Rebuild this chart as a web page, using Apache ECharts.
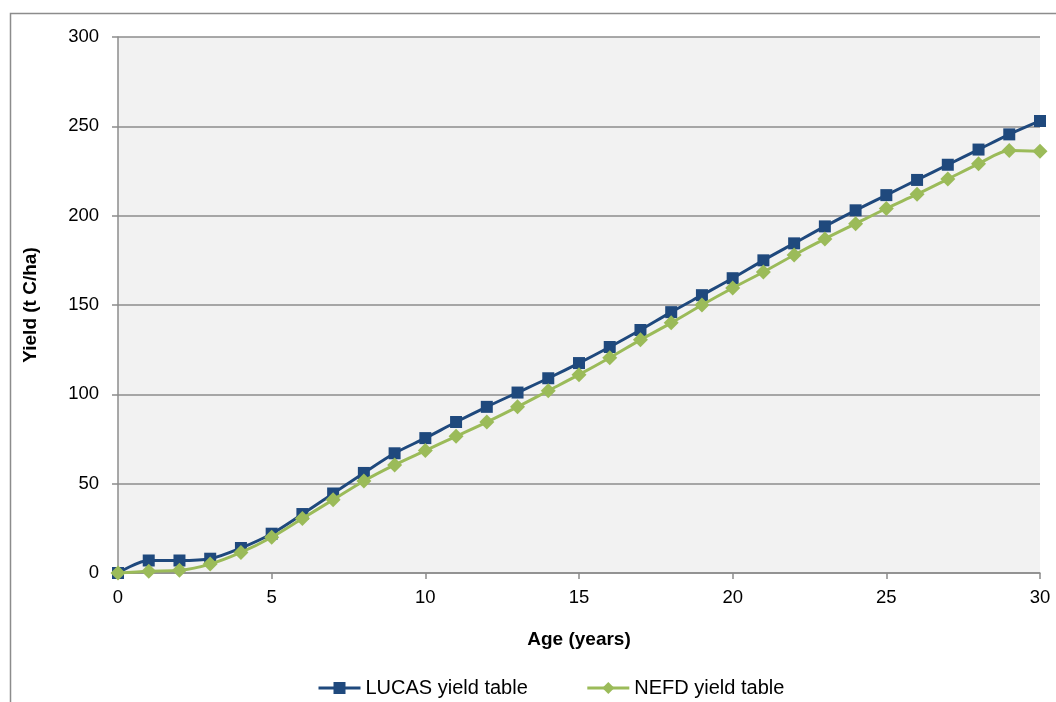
<!DOCTYPE html>
<html>
<head>
<meta charset="utf-8">
<script src="https://cdn.jsdelivr.net/npm/echarts@6/dist/echarts.min.js"></script>
<style>
  html, body { margin: 0; padding: 0; background: #fff; }
  #chart { width: 1056px; height: 702px; }
</style>
</head>
<body>
<div id="chart"></div>
<script>
// ages in years
const ages = [0, 1, 2, 3, 4, 5, 6, 7, 8, 9, 10, 11, 12, 13, 14, 15, 16, 17, 18, 19, 20, 21, 22, 23, 24, 25, 26, 27, 28, 29, 30]
// yield t C/ha
const lucas = [0, 7, 7, 8, 14, 22, 33, 44.5, 56, 67, 75.5, 84.5, 93, 101, 109, 117.5, 126.5, 136, 146, 155.5, 165, 175, 184.5, 194, 203, 211.5, 220, 228.5, 237, 245.5, 253]
const nefd = [0, 1, 1.5, 5, 11.5, 20, 30.5, 41, 51.5, 60.5, 68.5, 76.5, 84.5, 93, 102, 111, 120.5, 130.5, 140, 150, 159.5, 168.5, 178, 187, 195.5, 204, 212, 220.5, 229, 236.5, 236]
const yTicks = { min: 0, max: 300, interval: 50 }
const xTicks = { min: 0, max: 30, interval: 5 }

const chart = echarts.init(document.getElementById('chart'))
const font = 'Liberation Sans, Arial, sans-serif'

const option = {
  animation: false,
  textStyle: { fontFamily: font },
  graphic: [
    {
      type: 'rect',
      shape: { x: 10.5, y: 13.5, width: 1200, height: 900 },
      style: { fill: 'none', stroke: '#8c8c8c', lineWidth: 1.5 },
      silent: true
    }
  ],
  grid: {
    left: 118,
    right: 16,
    top: 37,
    bottom: 129,
    show: true,
    backgroundColor: '#f2f2f2',
    borderWidth: 0
  },
  legend: {
    left: 312,
    top: 673,
    itemWidth: 42,
    itemHeight: 15,
    itemGap: 58,
    lineStyle: { width: 3 },
    textStyle: { color: '#000', fontSize: 20, fontFamily: font },
    data: ['LUCAS yield table', 'NEFD yield table']
  },
  xAxis: {
    type: 'value',
    min: xTicks.min,
    max: xTicks.max,
    interval: xTicks.interval,
    name: 'Age (years)',
    nameLocation: 'middle',
    nameGap: 57,
    nameTextStyle: { color: '#000', fontSize: 19, fontWeight: 'bold', fontFamily: font },
    axisLine: { show: true, lineStyle: { color: '#8c8c8c', width: 1.5 } },
    axisTick: { show: true, inside: false, length: 6, lineStyle: { color: '#8c8c8c', width: 1.5 } },
    axisLabel: { color: '#000', fontSize: 18.5, margin: 15, fontFamily: font },
    splitLine: { show: false }
  },
  yAxis: {
    type: 'value',
    min: yTicks.min,
    max: yTicks.max,
    interval: yTicks.interval,
    name: 'Yield (t C/ha)',
    nameLocation: 'middle',
    nameGap: 78,
    nameRotate: 90,
    nameTextStyle: { color: '#000', fontSize: 19, fontWeight: 'bold', fontFamily: font },
    axisLine: { show: true, lineStyle: { color: '#8c8c8c', width: 1.5 } },
    axisTick: { show: true, inside: false, length: 6, lineStyle: { color: '#8c8c8c', width: 1.5 } },
    axisLabel: { color: '#000', fontSize: 18.5, margin: 19, fontFamily: font },
    splitLine: { show: true, lineStyle: { color: '#8c8c8c', width: 1.5 } }
  },
  series: [
    {
      name: 'LUCAS yield table',
      type: 'line',
      smooth: 0.3,
      symbol: 'rect',
      symbolSize: 12,
      data: ages.map((a, i) => [a, lucas[i]]),
      lineStyle: { color: '#1f497d', width: 3 },
      itemStyle: { color: '#1f497d' },
      z: 3
    },
    {
      name: 'NEFD yield table',
      type: 'line',
      smooth: 0.3,
      symbol: 'diamond',
      symbolSize: 15,
      data: ages.map((a, i) => [a, nefd[i]]),
      lineStyle: { color: '#9bbb59', width: 3 },
      itemStyle: { color: '#9bbb59' },
      z: 4
    }
  ]
}
chart.setOption(option)
</script>
</body>
</html>
